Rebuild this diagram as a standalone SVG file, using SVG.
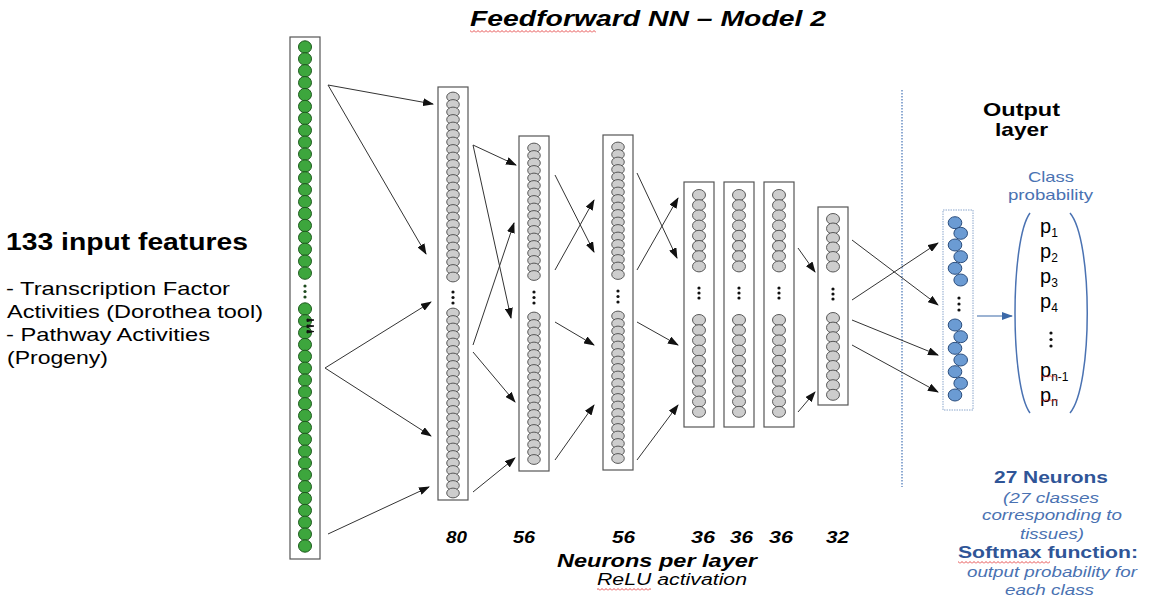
<svg xmlns="http://www.w3.org/2000/svg" xmlns:xlink="http://www.w3.org/1999/xlink" width="1153" height="600" viewBox="0 0 1153 600">
<style>
text{font-family:"Liberation Sans",Arial,sans-serif;fill:#000}
.b{font-weight:bold}
.i{font-style:italic}
.blue{fill:#2f5597}
.lblue{fill:#4a72b2}
.box{fill:#fff;stroke:#555;stroke-width:1.2}
.gn{fill:#3da63d;stroke:#1e5a1e;stroke-width:1}
.gy{fill:#cdcdcd;stroke:#4a4a4a;stroke-width:0.9}
.bl{fill:#6b9bd3;stroke:#2a4d7d;stroke-width:1}
.dot{fill:#111}
.conn path{fill:none;stroke:#333;stroke-width:1;marker-end:url(#ah)}
</style>
<defs>
<marker id="ah" markerUnits="userSpaceOnUse" markerWidth="11" markerHeight="8" refX="10" refY="4" orient="auto"><path d="M0 0 L11 4 L0 8 z" fill="#111"/></marker>
<marker id="ahb" markerUnits="userSpaceOnUse" markerWidth="11" markerHeight="8" refX="10" refY="4" orient="auto"><path d="M0 0 L11 4 L0 8 z" fill="#3a68a8"/></marker>
<pattern id="sq" patternUnits="userSpaceOnUse" width="4" height="3"><path d="M0 2.5 L2 0.5 L4 2.5" fill="none" stroke="#e02020" stroke-width="0.8"/></pattern>
<ellipse id="g" rx="6.5" ry="6.2" class="gn"/>
<ellipse id="c" rx="6.3" ry="4.9" class="gy"/>
<ellipse id="c2" rx="6.5" ry="5.5" class="gy"/>
<ellipse id="o" rx="6.8" ry="6" class="bl"/>
<g id="col56">
<use href="#c" y="148"/><use href="#c" y="155.5"/><use href="#c" y="163"/><use href="#c" y="170.5"/><use href="#c" y="178"/><use href="#c" y="185.5"/><use href="#c" y="193"/><use href="#c" y="200.5"/><use href="#c" y="208"/><use href="#c" y="215.5"/><use href="#c" y="223"/><use href="#c" y="230.5"/><use href="#c" y="238"/><use href="#c" y="245.5"/><use href="#c" y="253"/><use href="#c" y="260.5"/><use href="#c" y="268"/><use href="#c" y="275.5"/>
<circle class="dot" cy="292" r="1.6"/><circle class="dot" cy="297.5" r="1.6"/><circle class="dot" cy="303" r="1.6"/>
<use href="#c" y="317"/><use href="#c" y="324.5"/><use href="#c" y="332"/><use href="#c" y="339.5"/><use href="#c" y="347"/><use href="#c" y="354.5"/><use href="#c" y="362"/><use href="#c" y="369.5"/><use href="#c" y="377"/><use href="#c" y="384.5"/><use href="#c" y="392"/><use href="#c" y="399.5"/><use href="#c" y="407"/><use href="#c" y="414.5"/><use href="#c" y="422"/><use href="#c" y="429.5"/><use href="#c" y="437"/><use href="#c" y="444.5"/><use href="#c" y="452"/><use href="#c" y="459.5"/>
</g>
<g id="col36">
<use href="#c2" y="195"/><use href="#c2" y="205.2"/><use href="#c2" y="215.4"/><use href="#c2" y="225.6"/><use href="#c2" y="235.8"/><use href="#c2" y="246"/><use href="#c2" y="256.2"/><use href="#c2" y="266.4"/>
<circle class="dot" cy="288" r="1.6"/><circle class="dot" cy="293" r="1.6"/><circle class="dot" cy="298" r="1.6"/>
<use href="#c2" y="320"/><use href="#c2" y="330.2"/><use href="#c2" y="340.4"/><use href="#c2" y="350.6"/><use href="#c2" y="360.8"/><use href="#c2" y="371"/><use href="#c2" y="381.2"/><use href="#c2" y="391.4"/><use href="#c2" y="401.6"/><use href="#c2" y="411.8"/>
</g>
</defs>
<rect width="1153" height="600" fill="#fff"/>

<g id="title">
<text class="b i" x="470" y="26" font-size="22" textLength="356" lengthAdjust="spacingAndGlyphs">Feedforward NN – Model 2</text>
<rect x="470" y="30" width="126" height="3" fill="url(#sq)"/>
</g>

<g id="input-text">
<text class="b" x="6" y="250" font-size="23" textLength="242" lengthAdjust="spacingAndGlyphs">133 input features</text>
<text x="6" y="295" font-size="18.5" textLength="224" lengthAdjust="spacingAndGlyphs">- Transcription Factor</text>
<text x="7" y="318" font-size="18.5" textLength="256" lengthAdjust="spacingAndGlyphs">Activities (Dorothea tool)</text>
<text x="6" y="341" font-size="18.5" textLength="204" lengthAdjust="spacingAndGlyphs">- Pathway Activities</text>
<text x="7" y="364" font-size="18.5" textLength="101" lengthAdjust="spacingAndGlyphs">(Progeny)</text>
</g>

<g id="input-layer">
<rect class="box" x="290" y="37" width="30" height="522"/>
<g transform="translate(305,0)">
<use href="#g" y="47"/><use href="#g" y="58.9"/><use href="#g" y="70.8"/><use href="#g" y="82.7"/><use href="#g" y="94.6"/><use href="#g" y="106.5"/><use href="#g" y="118.4"/><use href="#g" y="130.3"/><use href="#g" y="142.2"/><use href="#g" y="154.1"/><use href="#g" y="166"/><use href="#g" y="177.9"/><use href="#g" y="189.8"/><use href="#g" y="201.7"/><use href="#g" y="213.6"/><use href="#g" y="225.5"/><use href="#g" y="237.4"/><use href="#g" y="249.3"/><use href="#g" y="261.2"/><use href="#g" y="273.1"/>
<circle cy="286" r="1.6" fill="#1e4a1e"/><circle cy="291.5" r="1.6" fill="#1e4a1e"/><circle cy="297" r="1.6" fill="#1e4a1e"/>
<use href="#g" y="309"/><use href="#g" y="320.85"/><use href="#g" y="332.7"/><use href="#g" y="344.55"/><use href="#g" y="356.4"/><use href="#g" y="368.25"/><use href="#g" y="380.1"/><use href="#g" y="391.95"/><use href="#g" y="403.8"/><use href="#g" y="415.65"/><use href="#g" y="427.5"/><use href="#g" y="439.35"/><use href="#g" y="451.2"/><use href="#g" y="463.05"/><use href="#g" y="474.9"/><use href="#g" y="486.75"/><use href="#g" y="498.6"/><use href="#g" y="510.45"/><use href="#g" y="522.3"/><use href="#g" y="534.15"/><use href="#g" y="546"/>
</g>
<path d="M307 319 L314 320 L307 321.5 z M307 325 L314 326 L307 327.5 z M307 330.5 L314 331.5 L307 333 z" fill="#111" stroke="#111" stroke-width="1"/>
</g>

<g id="layer80">
<rect class="box" x="438" y="87" width="30" height="413"/>
<g transform="translate(453,0)">
<use href="#c" y="97"/><use href="#c" y="104.5"/><use href="#c" y="112"/><use href="#c" y="119.5"/><use href="#c" y="127"/><use href="#c" y="134.5"/><use href="#c" y="142"/><use href="#c" y="149.5"/><use href="#c" y="157"/><use href="#c" y="164.5"/><use href="#c" y="172"/><use href="#c" y="179.5"/><use href="#c" y="187"/><use href="#c" y="194.5"/><use href="#c" y="202"/><use href="#c" y="209.5"/><use href="#c" y="217"/><use href="#c" y="224.5"/><use href="#c" y="232"/><use href="#c" y="239.5"/><use href="#c" y="247"/><use href="#c" y="254.5"/><use href="#c" y="262"/><use href="#c" y="269.5"/><use href="#c" y="277"/>
<circle class="dot" cy="292" r="1.6"/><circle class="dot" cy="297.5" r="1.6"/><circle class="dot" cy="303" r="1.6"/>
<use href="#c" y="313"/><use href="#c" y="320.5"/><use href="#c" y="328"/><use href="#c" y="335.5"/><use href="#c" y="343"/><use href="#c" y="350.5"/><use href="#c" y="358"/><use href="#c" y="365.5"/><use href="#c" y="373"/><use href="#c" y="380.5"/><use href="#c" y="388"/><use href="#c" y="395.5"/><use href="#c" y="403"/><use href="#c" y="410.5"/><use href="#c" y="418"/><use href="#c" y="425.5"/><use href="#c" y="433"/><use href="#c" y="440.5"/><use href="#c" y="448"/><use href="#c" y="455.5"/><use href="#c" y="463"/><use href="#c" y="470.5"/><use href="#c" y="478"/><use href="#c" y="485.5"/><use href="#c" y="493"/>
</g>
</g>

<g id="layer56a">
<rect class="box" x="519" y="136" width="30" height="335"/>
<use href="#col56" x="534"/>
</g>

<g id="layer56b">
<rect class="box" x="603" y="135" width="30" height="335"/>
<use href="#col56" x="618" y="-1"/>
</g>

<g id="layer36a">
<rect class="box" x="684" y="182" width="30" height="245"/>
<use href="#col36" x="699"/>
</g>
<g id="layer36b">
<rect class="box" x="724" y="182" width="30" height="245"/>
<use href="#col36" x="739"/>
</g>
<g id="layer36c">
<rect class="box" x="764" y="182" width="30" height="245"/>
<use href="#col36" x="779"/>
</g>

<g id="layer32">
<rect class="box" x="818" y="207" width="30" height="198"/>
<g transform="translate(833,0)">
<use href="#c2" y="219"/><use href="#c2" y="228.5"/><use href="#c2" y="238"/><use href="#c2" y="247.5"/><use href="#c2" y="257"/><use href="#c2" y="266.5"/>
<circle class="dot" cy="289" r="1.6"/><circle class="dot" cy="294" r="1.6"/><circle class="dot" cy="299" r="1.6"/>
<use href="#c2" y="318"/><use href="#c2" y="327.6"/><use href="#c2" y="337.2"/><use href="#c2" y="346.8"/><use href="#c2" y="356.4"/><use href="#c2" y="366"/><use href="#c2" y="375.6"/><use href="#c2" y="385.2"/><use href="#c2" y="394.8"/>
</g>
</g>

<g id="layer-labels">
<text class="b i" x="446" y="543" font-size="17" textLength="21" lengthAdjust="spacingAndGlyphs">80</text>
<text class="b i" x="513" y="543" font-size="17" textLength="22" lengthAdjust="spacingAndGlyphs">56</text>
<text class="b i" x="612" y="543" font-size="17" textLength="23" lengthAdjust="spacingAndGlyphs">56</text>
<text class="b i" x="691" y="543" font-size="17" textLength="24" lengthAdjust="spacingAndGlyphs">36</text>
<text class="b i" x="730" y="543" font-size="17" textLength="23" lengthAdjust="spacingAndGlyphs">36</text>
<text class="b i" x="769" y="543" font-size="17" textLength="24" lengthAdjust="spacingAndGlyphs">36</text>
<text class="b i" x="826" y="543" font-size="17" textLength="23" lengthAdjust="spacingAndGlyphs">32</text>
<text class="b i" x="557" y="567" font-size="18" textLength="200" lengthAdjust="spacingAndGlyphs">Neurons per layer</text>
<text class="i" x="597" y="585" font-size="16" textLength="150" lengthAdjust="spacingAndGlyphs">ReLU activation</text>
<rect x="597" y="588" width="54" height="3" fill="url(#sq)"/>
</g>

<g id="separator">
<line x1="902" y1="90" x2="902" y2="487" stroke="#6a8fc4" stroke-width="1.5" stroke-dasharray="1.5 1.5"/>
</g>

<g id="output-layer">
<text class="b" x="983" y="116" font-size="19" textLength="77" lengthAdjust="spacingAndGlyphs">Output</text>
<text class="b" x="995" y="136" font-size="19" textLength="53" lengthAdjust="spacingAndGlyphs">layer</text>
<rect x="943" y="210" width="30" height="200" fill="#fff" stroke="#8aa6cc" stroke-width="1" stroke-dasharray="1.5 1"/>
<use href="#o" x="955" y="222.7"/><use href="#o" x="960.7" y="233.3"/><use href="#o" x="955" y="245"/><use href="#o" x="960.7" y="256.7"/><use href="#o" x="955" y="268.3"/><use href="#o" x="960.7" y="280"/>
<circle class="dot" cx="959" cy="298" r="1.6"/><circle class="dot" cx="959" cy="304" r="1.6"/><circle class="dot" cx="959" cy="310" r="1.6"/>
<use href="#o" x="955" y="325"/><use href="#o" x="960.7" y="336.7"/><use href="#o" x="955" y="348.3"/><use href="#o" x="960.7" y="360"/><use href="#o" x="955" y="371.7"/><use href="#o" x="960.7" y="383.3"/><use href="#o" x="955" y="395"/>
</g>

<g id="class-probability">
<text class="lblue" x="1028" y="182" font-size="15" textLength="46" lengthAdjust="spacingAndGlyphs">Class</text>
<text class="lblue" x="1008" y="200" font-size="15" textLength="85" lengthAdjust="spacingAndGlyphs">probability</text>
<path d="M1030 213 C1010 240 1010 386 1030 413 M1070 213 C1093 240 1093 386 1070 413" fill="none" stroke="#4a72b2" stroke-width="1.5"/>
<g font-size="20" fill="#111">
<text x="1040" y="233">p<tspan font-size="12" dy="4">1</tspan></text>
<text x="1040" y="258">p<tspan font-size="12" dy="4">2</tspan></text>
<text x="1040" y="283">p<tspan font-size="12" dy="4">3</tspan></text>
<text x="1040" y="308">p<tspan font-size="12" dy="4">4</tspan></text>
<text x="1040" y="377">p<tspan font-size="12" dy="4">n-1</tspan></text>
<text x="1040" y="402">p<tspan font-size="12" dy="4">n</tspan></text>
</g>
<circle class="dot" cx="1051" cy="333" r="1.6"/><circle class="dot" cx="1051" cy="339.5" r="1.6"/><circle class="dot" cx="1051" cy="346" r="1.6"/>
<rect x="1041" y="375" width="15" height="3" fill="url(#sq)"/>
<rect x="1041" y="399" width="17" height="3" fill="url(#sq)"/>
</g>

<g id="output-notes">
<text class="b blue" x="994" y="483" font-size="17" textLength="114" lengthAdjust="spacingAndGlyphs">27 Neurons</text>
<text class="i lblue" x="1003" y="503" font-size="15" textLength="96" lengthAdjust="spacingAndGlyphs">(27 classes</text>
<text class="i lblue" x="982" y="520" font-size="15" textLength="140" lengthAdjust="spacingAndGlyphs">corresponding to</text>
<text class="i lblue" x="1020" y="539" font-size="15" textLength="64" lengthAdjust="spacingAndGlyphs">tissues)</text>
<text class="b blue" x="958" y="558" font-size="17" textLength="180" lengthAdjust="spacingAndGlyphs">Softmax function:</text>
<rect x="958" y="561" width="92" height="3" fill="url(#sq)"/>
<text class="i lblue" x="967" y="577" font-size="15" textLength="170" lengthAdjust="spacingAndGlyphs">output probability for</text>
<text class="i lblue" x="1005" y="595" font-size="15" textLength="89" lengthAdjust="spacingAndGlyphs">each class</text>
</g>

<g id="connectors" class="conn">
<path d="M328 85 L433 104"/>
<path d="M328 85 L426 254"/>
<path d="M325 368 L431 302"/>
<path d="M325 368 L431 436"/>
<path d="M328 534 L429 487"/>
<path d="M473 145 L516 165"/>
<path d="M473 145 L511 318"/>
<path d="M473 345 L514 223"/>
<path d="M473 352 L515 402"/>
<path d="M473 492 L515 458"/>
<path d="M555 175 L594 252"/>
<path d="M555 270 L594 200"/>
<path d="M555 322 L594 345"/>
<path d="M555 460 L594 405"/>
<path d="M637 173 L677 258"/>
<path d="M637 270 L678 198"/>
<path d="M637 322 L678 345"/>
<path d="M637 460 L678 405"/>
<path d="M798 248 L815 272"/>
<path d="M798 412 L815 392"/>
<path d="M852 240 L938 305"/>
<path d="M852 300 L938 243"/>
<path d="M852 320 L938 355"/>
<path d="M852 345 L938 392"/>
<path d="M977 316 L1012 316" style="stroke:#3a68a8;stroke-width:1.2;marker-end:url(#ahb)"/>
</g>
</svg>
